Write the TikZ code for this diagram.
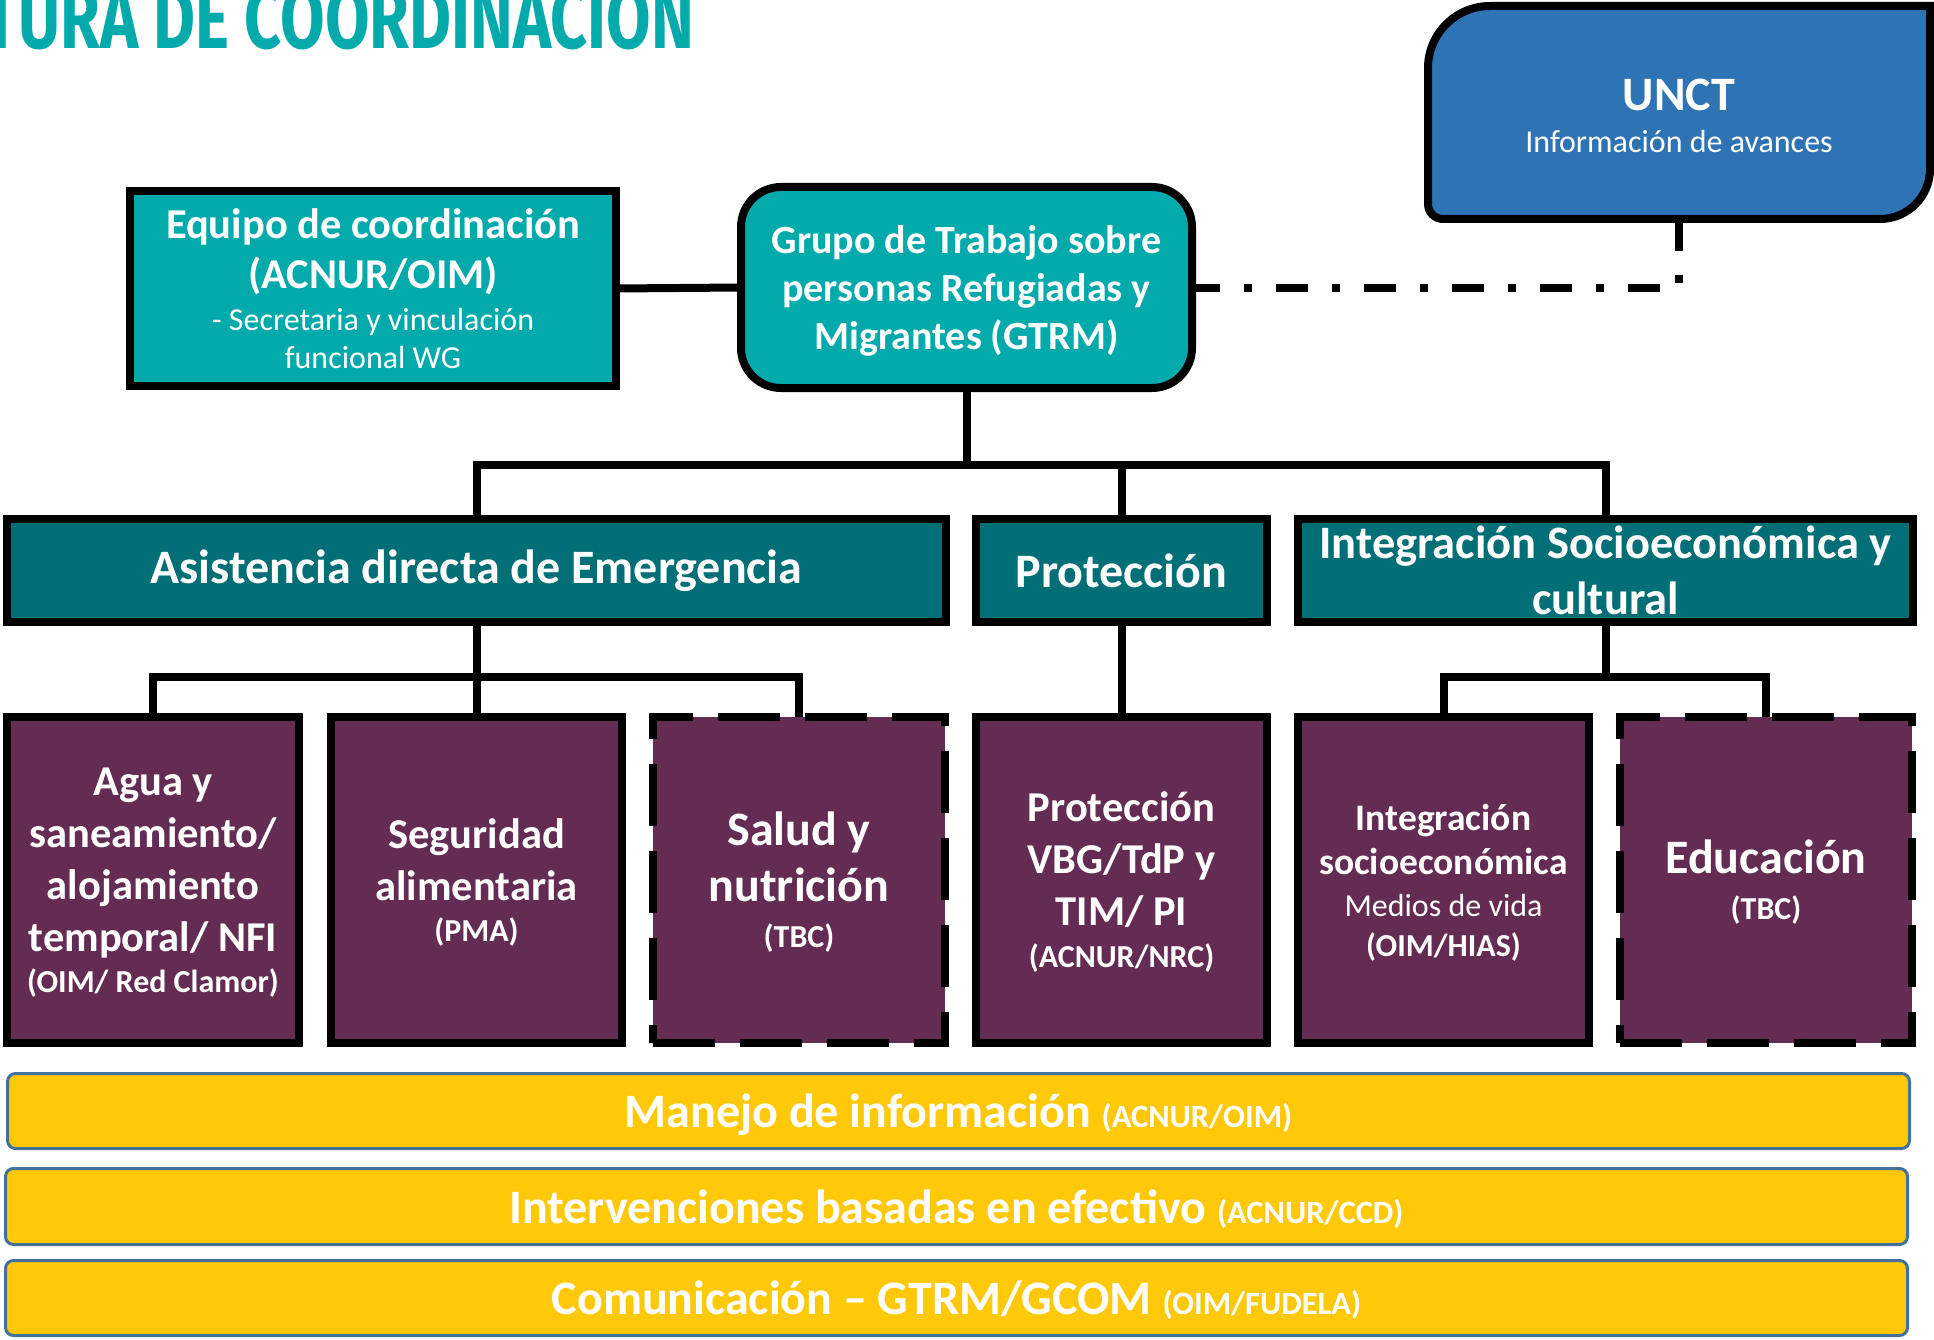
\documentclass[tikz,border=0pt]{standalone}
\usepackage{fontspec}
\setmainfont{Carlito}
\newfontfamily\titlefont[FakeStretch=0.75]{Fira Sans}
\usetikzlibrary{backgrounds}
\definecolor{tealA}{HTML}{02AAAC}
\definecolor{tealB}{HTML}{026E75}
\definecolor{purp}{HTML}{652C53}
\definecolor{unctblue}{HTML}{2E74B5}
\definecolor{yel}{HTML}{FFC90A}
\definecolor{barblue}{HTML}{41719C}
\tikzset{
  box/.style={draw=black, line width=8pt, inner sep=0pt, outer sep=0pt, align=center, text=white, rectangle},
  tealbox/.style={box, fill=tealA},
  hdr/.style={box, fill=tealB, font=\fontsize{48}{55}\selectfont\bfseries},
  purpbox/.style={box, fill=purp, minimum height=326pt, text depth=0pt, font=\fontsize{42.5}{52}\selectfont\bfseries},
  purpdash/.style={purpbox, dash pattern=on 62pt off 25pt},
  conn/.style={line width=8pt, draw=black},
  dashdot/.style={line width=8pt, draw=black, dash pattern=on 32pt off 24pt on 8pt off 24pt},
  bar/.style={draw=barblue, line width=3pt, fill=yel, rounded corners=8pt, text=white, inner sep=0pt, outer sep=0pt, minimum width=1902pt, text height=33pt, text depth=0pt, font=\fontsize{48}{55}\selectfont\bfseries}
}
\newcommand{\sm}[1]{{\fontsize{32}{38}\selectfont #1}}
\newcommand{\smr}[1]{{\fontsize{32.5}{38}\selectfont #1}}
\begin{document}
\begin{tikzpicture}[x=1pt,y=-1pt]
\useasboundingbox (0,0) rectangle (1934,1340);
\clip (0,0) rectangle (1934,1340);

% title
\node[anchor=base east, inner sep=0pt, text=tealA, font=\titlefont\bfseries\fontsize{86}{90}\selectfont] (title) at (694,49) {TURA DE COORDINACIÓN};

% top level
\node[tealbox, minimum width=486pt, minimum height=195pt, font=\fontsize{42.5}{50}\selectfont\bfseries] (equipo) at (373,288.5)
  {Equipo de coordinación\\
   (ACNUR/OIM)\\[-8pt]
   {\fontsize{32}{38}\selectfont\mdseries - Secretaria y vinculación}\\[-12pt]
   {\fontsize{32}{38}\selectfont\mdseries funcional WG}};
\node[tealbox, rounded corners=40pt, minimum width=451pt, minimum height=201pt, text depth=0pt, font=\fontsize{40}{48}\selectfont\bfseries] (gtrm) at (966.5,287.5)
  {Grupo de Trabajo sobre\\personas Refugiadas y\\Migrantes (GTRM)};
\node[inner sep=0pt, outer sep=0pt, minimum width=502pt, minimum height=213pt] (unct) at (1679,112.5) {};
\fill[unctblue, draw=black, line width=8pt]
  (1428,68) -- (1428,204) .. controls (1428,212.3) and (1434.7,219) .. (1443,219)
  -- (1880,219) .. controls (1907.6,219) and (1930,196.6) .. (1930,169)
  -- (1930,6) -- (1490,6) .. controls (1455.8,6) and (1428,33.8) .. (1428,68) -- cycle;
\node[text=white, align=center, inner sep=0pt, font=\fontsize{48}{47}\selectfont\bfseries] (unctlabel) at (1679,116)
  {UNCT\\[-5pt] {\fontsize{32}{40}\selectfont\mdseries Información de avances}};

% second level
\node[hdr, minimum width=939pt, minimum height=103pt] (asis) at (476.5,570.5) {Asistencia directa de Emergencia};
\node[hdr, minimum width=291pt, minimum height=103pt] (prot) at (1121.5,570.5) {Protección};
\node[hdr, minimum width=615pt, minimum height=103pt, font=\fontsize{46.5}{55.5}\selectfont\bfseries] (integ) at (1605.5,570.5) {Integración Socioeconómica y\\cultural};

% third level
\node[purpbox, minimum width=292pt] (agua) at (153,880)
  {Agua y\\saneamiento/\\alojamiento\\temporal/ NFI\\[-11pt] \sm{(OIM/ Red Clamor)}};
\node[purpbox, minimum width=291pt] (segur) at (476.5,880)
  {Seguridad\\alimentaria\\[-11pt] \sm{(PMA)}};
\node[purpdash, minimum width=292pt, font=\fontsize{48}{56}\selectfont\bfseries] (salud) at (799,880)
  {Salud y\\nutrición\\[-10pt] \sm{(TBC)}};
\node[purpbox, minimum width=291pt] (vbg) at (1121.5,880)
  {Protección\\VBG/TdP y\\TIM/ PI\\[-10pt] \sm{(ACNUR/NRC)}};
\node[purpbox, minimum width=291pt, font=\fontsize{37.5}{44}\selectfont\bfseries] (socio) at (1443.5,880)
  {Integración\\socioeconómica\\[-2pt] {\fontsize{32}{40}\selectfont\mdseries Medios de vida}\\[-4pt] \sm{(OIM/HIAS)}};
\node[purpdash, minimum width=292pt, font=\fontsize{48}{56}\selectfont\bfseries] (educ) at (1766,880)
  {Educación\\[-10pt] \sm{(TBC)}};

% bars
\node[bar, minimum height=75pt] (bar1) at (958.5,1111) {Manejo de información \smr{(ACNUR/OIM)}};
\node[bar, minimum height=76pt] (bar2) at (956.5,1206.5) {Intervenciones basadas en efectivo \smr{(ACNUR/CCD)}};
\node[bar, minimum height=75pt] (bar3) at (956.5,1298) {Comunicación – GTRM/GCOM \smr{(OIM/FUDELA)}};

% connectors
\begin{scope}[on background layer]
\coordinate (busA) at (0,465);
\coordinate (busB) at (0,677);
\draw[conn] (equipo.east) -- (gtrm.west);
\draw[conn] (asis.north) |- (gtrm.south |- busA) -- (gtrm.south);
\draw[conn] (integ.north) |- (gtrm.south |- busA);
\draw[conn] (prot.north) -- (prot.north |- busA);
\draw[conn] (agua.north) |- (asis.south |- busB) -- (asis.south);
\draw[conn] (salud.north) |- (asis.south |- busB);
\draw[conn] (segur.north) -- (asis.south);
\draw[conn] (vbg.north) -- (prot.south);
\draw[conn] (socio.north) |- (integ.south |- busB) -- (integ.south);
\draw[conn] (educ.north) |- (integ.south |- busB);
\draw[dashdot] (unct.south) |- (gtrm.east);
\end{scope}
\end{tikzpicture}
\end{document}
